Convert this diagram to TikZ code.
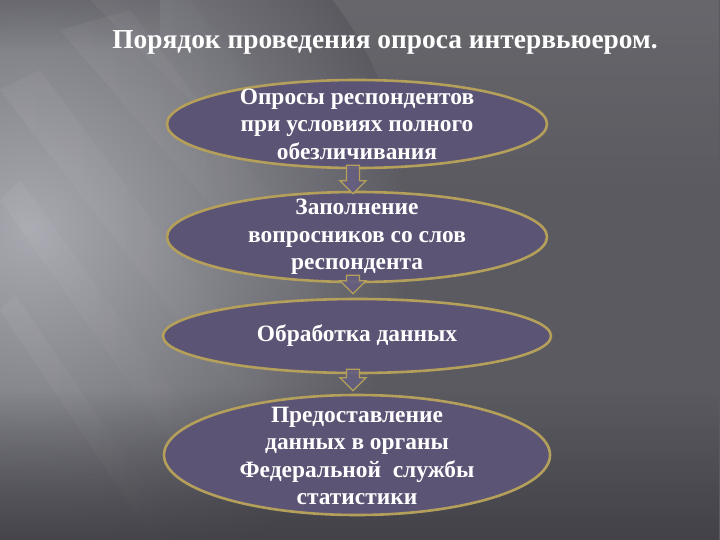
\documentclass[tikz,border=0pt]{standalone}
\usepackage{fontspec}
\setmainfont{Liberation Serif}
\usetikzlibrary{shapes.geometric,calc,fadings}
\definecolor{bgbase}{HTML}{5A5A60}
\definecolor{bglight}{HTML}{A8A8B0}
\definecolor{bgdark}{HTML}{3C3C42}
\definecolor{ellfill}{HTML}{5C5474}
\definecolor{gold}{HTML}{B4A05A}
\definecolor{arrfill}{HTML}{655E80}
\tikzset{
  ell/.style={ellipse, draw=gold, line width=2.6bp, fill=ellfill, inner sep=0pt},
  txt/.style={text=white, font=\bfseries\fontsize{23.5}{27.5}\selectfont, align=center, inner sep=0pt},
  blockarrow/.style={draw=gold, line width=1.3bp, fill=arrfill, fill opacity=0.9, line join=miter},
  streak/.style={fill=white, opacity=0.05, path fading=east}
}
\begin{document}
\begin{tikzpicture}[x=1bp,y=-1bp]
\useasboundingbox (0,0) rectangle (720,540);
% background
\fill[bgbase] (0,0) rectangle (720,540);
\fill[white, opacity=0.08, path fading=south] (0,0) rectangle (720,200);
\shade[inner color=bglight, outer color=bgbase] (30,230) ellipse (380 and 380);
\fill[bgbase, opacity=0.5, path fading=south] (0,0) rectangle (160,50);
\fill[bgdark, opacity=0.8, path fading=north] (0,390) rectangle (720,540);
\fill[streak] (0,90) -- (40,70) -- (300,420) -- (270,440) -- cycle;
\fill[streak] (0,200) -- (20,180) -- (230,470) -- (205,490) -- cycle;
\fill[streak] (60,30) -- (130,10) -- (350,300) -- (310,320) -- cycle;
\fill[streak] (0,310) -- (15,295) -- (170,520) -- (150,535) -- cycle;
\fill[streak] (90,0) -- (190,0) -- (290,130) -- (240,150) -- cycle;
% title
\node[text=white, font=\bfseries\fontsize{27.5}{32}\selectfont, inner sep=0pt] (title) at (385,42) {Порядок проведения опроса интервьюером.};
% ellipses
\node[ell, minimum width=380bp, minimum height=88bp] (e1) at (357,124) {};
\node[ell, minimum width=380bp, minimum height=90bp] (e2) at (357,237) {};
\node[ell, minimum width=388bp, minimum height=74bp] (e3) at (357,336) {};
\node[ell, minimum width=386bp, minimum height=120bp] (e4) at (357,455) {};
% arrow end points
\coordinate (s1) at ($(e1.south)+(-4,-4)$); \coordinate (d1) at ($(e2.north)+(-4,3)$);
\coordinate (s2) at ($(e2.south)+(-4,-8)$); \coordinate (d2) at ($(e3.north)+(-4,-4)$);
\coordinate (s3) at ($(e3.south)+(-4,-5)$); \coordinate (d3) at ($(e4.north)+(-4,-3)$);
% block arrows
\foreach \s/\d in {s1/d1, s2/d2, s3/d3}{
  \draw[blockarrow] ($(\s)+(-6.5,0)$) -- ($(\s)+(6.5,0)$) -- ($(\d)+(6.5,-13)$) -- ($(\d)+(13,-13)$)
     -- (\d) -- ($(\d)+(-13,-13)$) -- ($(\d)+(-6.5,-13)$) -- cycle;
}
% texts
\node[txt] (t1) at (357,124) {Опросы респондентов\\при условиях полного\\обезличивания};
\node[txt] (t2) at (357,237) {Заполнение\\вопросников со слов\\респондента};
\node[txt] (t3) at (357,336) {Обработка данных};
\node[txt] (t4) at (357,456) {Предоставление\\данных в органы\\Федеральной\ \ службы\\статистики};
\end{tikzpicture}
\end{document}
